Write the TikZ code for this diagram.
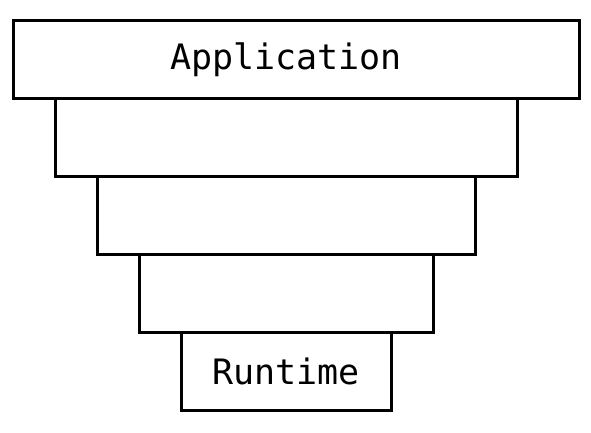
\documentclass[tikz,border=0pt]{standalone}
\usepackage{fontspec}
\setmonofont{DejaVu Sans Mono}
\begin{document}
\begin{tikzpicture}[x=1pt,y=-1pt,
  layer/.style={draw=black,line width=3pt,fill=white,inner sep=0pt,outer sep=0pt,minimum height=78pt},
  lbl/.style={inner sep=0pt,font=\ttfamily\fontsize{35}{40}\selectfont},
]
\useasboundingbox (0,0) rectangle (591,432);
\node[layer,minimum width=566pt] (l1) at (296,59) {};
\node[layer,minimum width=462pt] (l2) at (286,137) {};
\node[layer,minimum width=378pt] (l3) at (286,215) {};
\node[layer,minimum width=294pt] (l4) at (286,293) {};
\node[layer,minimum width=210pt] (l5) at (286,371) {};
\node[lbl] (t1) at (286,60) {Application};
\node[lbl] (t5) at (286,371) {Runtime};
\end{tikzpicture}
\end{document}
